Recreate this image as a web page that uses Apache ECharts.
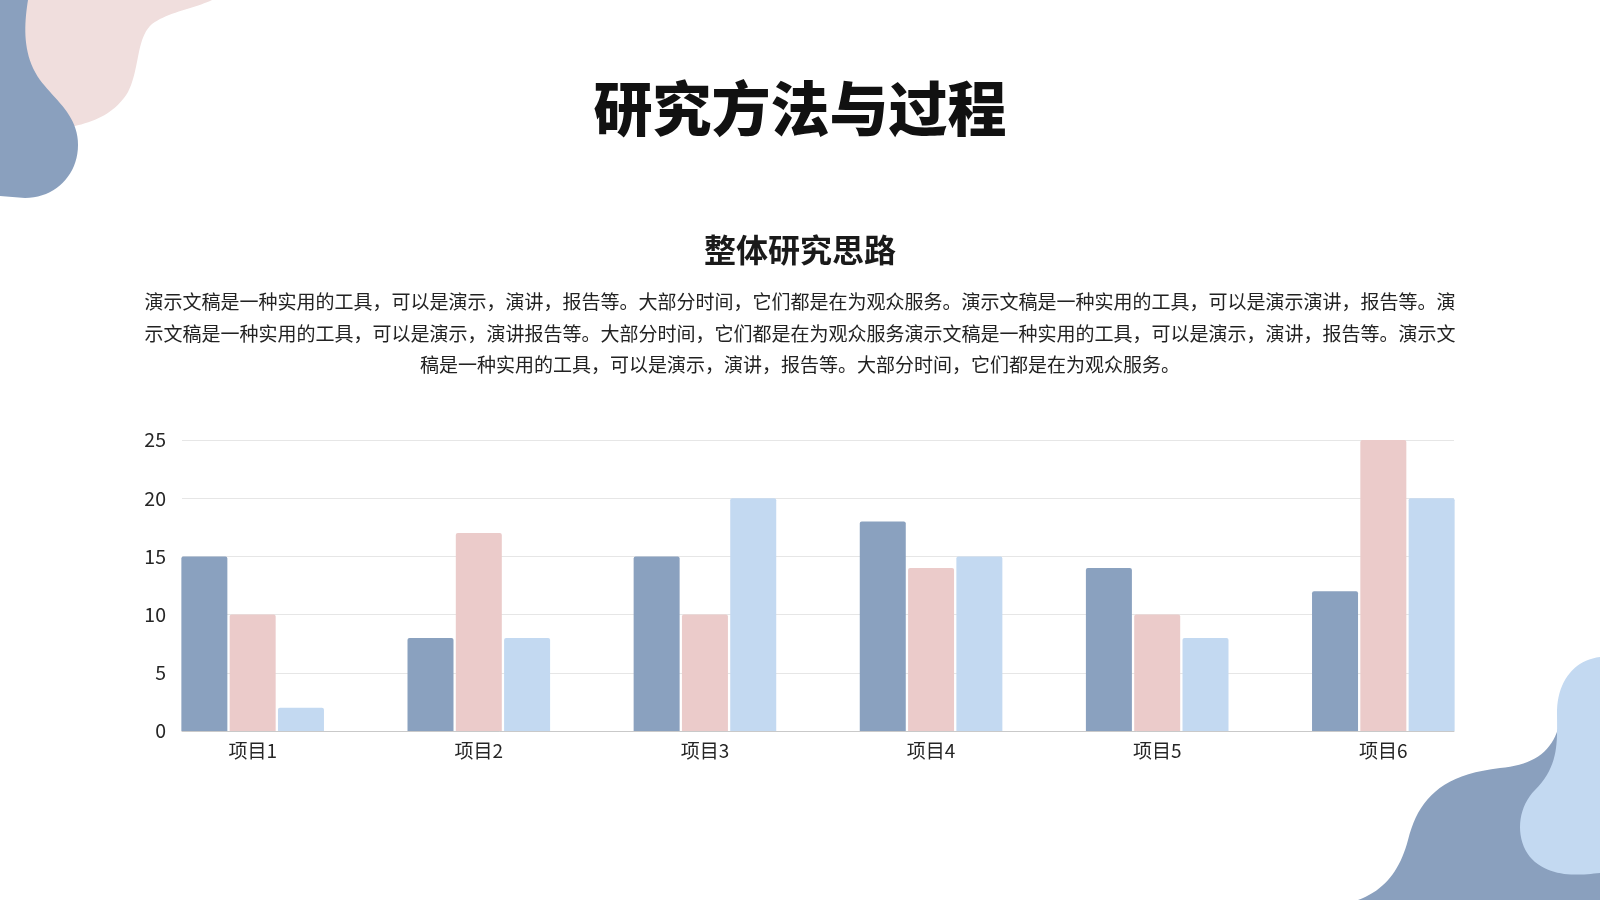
<!DOCTYPE html>
<html>
<head>
<meta charset="utf-8">
<script src="https://cdn.jsdelivr.net/npm/echarts@6/dist/echarts.min.js"></script>
<style>
  html, body { margin: 0; padding: 0; background: #ffffff; }
  #container { width: 1600px; height: 900px; }
</style>
</head>
<body>
<div id="container"></div>
<script>
var dom = document.getElementById("container");
var myChart = echarts.init(dom);
var option = null;

var FONT = '"Noto Sans CJK SC", "Noto Sans", sans-serif';

// 数据
var categories = ['项目1', '项目2', '项目3', '项目4', '项目5', '项目6'];
var seriesA = [15, 8, 15, 18, 14, 12];      // 深蓝灰
var seriesB = [10, 17, 10, 14, 10, 25];     // 粉色
var seriesC = [2, 8, 20, 15, 8, 20];        // 浅蓝
var yTicks = [0, 5, 10, 15, 20, 25];

var titleText = '研究方法与过程';
var subTitleText = '整体研究思路';
var paragraph = [
    '演示文稿是一种实用的工具，可以是演示，演讲，报告等。大部分时间，它们都是在为观众服务。演示文稿是一种实用的工具，可以是演示演讲，报告等。演',
    '示文稿是一种实用的工具，可以是演示，演讲报告等。大部分时间，它们都是在为观众服务演示文稿是一种实用的工具，可以是演示，演讲，报告等。演示文',
    '稿是一种实用的工具，可以是演示，演讲，报告等。大部分时间，它们都是在为观众服务。'
];

var colors = ['#8aa1bf', '#ebcbca', '#c3d9f1'];

// 轴区域
var axisLeft = 182, axisRight = 1454, gridTop = 440, gridBottom = 169;
var halfGap = 42.4;   // 首尾组外侧留白的一半

// 把简单的 M/L/C/Z 路径转成多边形点（装饰用）
function pathToPoints(d) {
    var nums = d.match(/[A-Z]|-?[\d.]+/g);
    var pts = [], i = 0, cur = [0, 0], cmd;
    while (i < nums.length) {
        if (/[A-Z]/.test(nums[i])) { cmd = nums[i]; i++; if (cmd === 'Z') continue; }
        if (cmd === 'M' || cmd === 'L') {
            cur = [+nums[i], +nums[i + 1]]; pts.push(cur); i += 2;
        } else if (cmd === 'C') {
            var p1 = [+nums[i], +nums[i + 1]], p2 = [+nums[i + 2], +nums[i + 3]], p3 = [+nums[i + 4], +nums[i + 5]];
            for (var t = 1; t <= 20; t++) {
                var s = t / 20, u = 1 - s;
                pts.push([
                    u * u * u * cur[0] + 3 * u * u * s * p1[0] + 3 * u * s * s * p2[0] + s * s * s * p3[0],
                    u * u * u * cur[1] + 3 * u * u * s * p1[1] + 3 * u * s * s * p2[1] + s * s * s * p3[1]
                ]);
            }
            cur = p3; i += 6;
        } else { i++; }
    }
    return pts;
}

function blob(d, fill, z) {
    return {type: 'polygon', z: z, silent: true, shape: {points: pathToPoints(d)}, style: {fill: fill}};
}

var graphics = [
    // 左上角装饰
    blob('M0 0 L212 0 C196 8 168 12 152 24 C136 38 140 68 128 92 C116 112 96 122 70 127 L0 127 Z', '#f0dedd', 1),
    blob('M0 0 L28 0 C24 25 22 55 40 80 C55 100 78 115 78 145 C78 175 55 198 25 198 L0 196 Z', '#8aa0be', 2),
    // 右下角装饰
    blob('M1358 900 C1385 890 1400 870 1408 840 C1418 800 1440 775 1500 768 C1535 765 1555 750 1560 720 L1600 700 L1600 900 Z', '#8aa0be', 1),
    blob('M1600 657 C1575 660 1558 680 1557 710 C1557 740 1560 765 1535 790 C1515 810 1515 845 1535 862 C1555 878 1580 875 1600 873 Z', '#c3d9f1', 2),
    {
        type: 'text', left: 'center', top: 113 - 34,
        style: {text: titleText, fill: '#111111', font: '900 59px ' + FONT}
    },
    {
        type: 'text', left: 'center', top: 253 - 19,
        style: {text: subTitleText, fill: '#1a1a1a', font: '700 32px ' + FONT}
    }
];

var lineY = [303, 335, 366];
paragraph.forEach(function (line, i) {
    graphics.push({
        type: 'text', left: 'center', top: lineY[i] - 11,
        style: {text: line, fill: '#222222', font: '400 19px ' + FONT}
    });
});

function barSeries(name, data, color) {
    return {
        name: name,
        type: 'bar',
        xAxisIndex: 1,
        yAxisIndex: 1,
        barWidth: 46,
        barGap: '5%',
        itemStyle: {color: color, borderRadius: [2, 2, 0, 0]},
        data: data
    };
}

option = {
    backgroundColor: '#ffffff',
    animation: false,
    textStyle: {fontFamily: FONT},
    graphic: graphics,
    grid: [
        {left: axisLeft, right: 1600 - axisRight, top: gridTop, bottom: gridBottom},
        {left: axisLeft - halfGap, right: 1600 - axisRight - halfGap, top: gridTop, bottom: gridBottom}
    ],
    xAxis: [
        {
            gridIndex: 0, type: 'value', min: 0, max: 1,
            axisLine: {show: true, onZero: false, lineStyle: {color: '#c9c9c9', width: 1}},
            axisTick: {show: false}, axisLabel: {show: false}, splitLine: {show: false}
        },
        {
            gridIndex: 1, type: 'category', data: categories,
            axisLine: {show: false}, axisTick: {show: false},
            axisLabel: {color: '#262626', fontSize: 19, margin: 10, fontFamily: FONT}
        }
    ],
    yAxis: [
        {
            gridIndex: 0, type: 'value', min: yTicks[0], max: yTicks[yTicks.length - 1], interval: 5,
            axisLine: {show: false}, axisTick: {show: false},
            axisLabel: {color: '#262626', fontSize: 19.5, margin: 16, fontFamily: FONT},
            splitLine: {lineStyle: {color: '#e6e6e6', width: 1}}
        },
        {
            gridIndex: 1, type: 'value', min: yTicks[0], max: yTicks[yTicks.length - 1],
            show: false, splitLine: {show: false}
        }
    ],
    series: [
        barSeries('系列1', seriesA, colors[0]),
        barSeries('系列2', seriesB, colors[1]),
        barSeries('系列3', seriesC, colors[2])
    ]
};

if (option && typeof option === "object") {
    myChart.setOption(option, true);
}
</script>
</body>
</html>
